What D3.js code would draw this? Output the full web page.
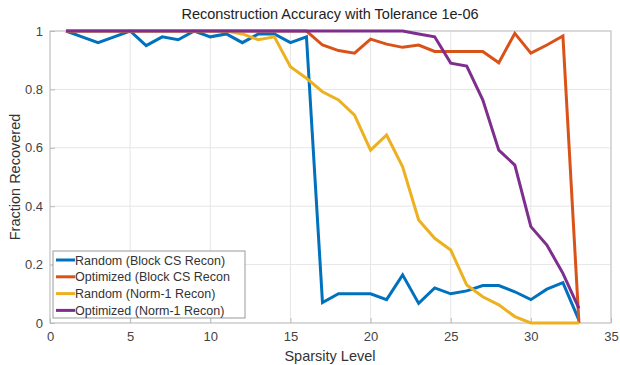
<!DOCTYPE html>
<html><head><meta charset="utf-8">
<script src="https://cdn.jsdelivr.net/npm/d3@7"></script>
<style>body{margin:0;background:#fff;} svg{display:block;font-family:"Liberation Sans",Arial,sans-serif;}</style>
</head><body>
<svg id="c" width="620" height="365"></svg>
<script>
const sparsity = d3.range(1, 34);
const randomBlock = [1.0,0.98,0.96,0.98,1.0,0.95,0.98,0.97,1.0,0.98,0.99,0.96,0.99,0.99,0.96,0.98,0.07,0.10,0.10,0.10,0.08,0.165,0.067,0.12,0.10,0.11,0.128,0.128,0.107,0.08,0.116,0.138,0.01];
const optimizedBlock = [1,1,1,1,1,1,1,1,1,1,1,1,1,1,1,1,0.952,0.933,0.924,0.972,0.955,0.944,0.952,0.93,0.93,0.93,0.93,0.891,0.992,0.924,0.952,0.983,0.0];
const randomNorm1 = [1,1,1,1,1,1,1,1,1,1,1,0.99,0.97,0.98,0.878,0.838,0.792,0.764,0.712,0.592,0.644,0.535,0.353,0.29,0.25,0.13,0.09,0.062,0.022,0.0,0.0,0.0,0.0];
const optimizedNorm1 = [1,1,1,1,1,1,1,1,1,1,1,1,1,1,1,1,1,1,1,1,1,1,0.99,0.98,0.89,0.88,0.764,0.592,0.541,0.33,0.267,0.17,0.05];
const seriesNames = ["Random (Block CS Recon)","Optimized (Block CS Recon","Random (Norm-1 Recon)","Optimized (Norm-1 Recon)"];
const colors = ["#0072BD","#D95319","#EDB120","#7E2F8E"];
const xTicks = [0,5,10,15,20,25,30,35];
const yTicks = [0,0.2,0.4,0.6,0.8,1];
const yTickLabels = ["0","0.2","0.4","0.6","0.8","1"];

const svg = d3.select("#c");
const L=50, R=611, T=31, B=323;
const x = d3.scaleLinear().domain([0,35]).range([L,R]);
const y = d3.scaleLinear().domain([0,1]).range([B,T]);

// grid
svg.append("g").selectAll("line").data(xTicks).join("line")
  .attr("x1",d=>x(d)).attr("x2",d=>x(d)).attr("y1",T).attr("y2",B)
  .attr("stroke","#e6e6e6").attr("stroke-width",1);
svg.append("g").selectAll("line").data(yTicks).join("line")
  .attr("x1",L).attr("x2",R).attr("y1",d=>y(d)).attr("y2",d=>y(d))
  .attr("stroke","#e6e6e6").attr("stroke-width",1);

// box
svg.append("rect").attr("x",L).attr("y",T).attr("width",R-L).attr("height",B-T)
  .attr("fill","none").attr("stroke","#c8c8c8").attr("stroke-width",1.2);

// axes
const xAxis = d3.axisBottom(x).tickValues(xTicks).tickSize(-5).tickPadding(9).tickFormat(d3.format("d"));
const gx = svg.append("g").attr("transform",`translate(0,${B})`).call(xAxis);
gx.select(".domain").remove();
gx.selectAll(".tick line").attr("stroke","#bbb");
gx.selectAll("text").attr("fill","#444").attr("font-size",13);
const yAxis = d3.axisLeft(y).tickValues(yTicks).tickSize(-5).tickPadding(7).tickFormat((d,i)=>yTickLabels[i]);
const gy = svg.append("g").attr("transform",`translate(${L},0)`).call(yAxis);
gy.select(".domain").remove();
gy.selectAll(".tick line").attr("stroke","#bbb");
gy.selectAll("text").attr("fill","#444").attr("font-size",13);

// lines
const allSeries = [randomBlock, optimizedBlock, randomNorm1, optimizedNorm1];
const line = d3.line().x((d,i)=>x(sparsity[i])).y(d=>y(d));
const clip = svg.append("clipPath").attr("id","clp").append("rect").attr("x",L).attr("y",T-3).attr("width",R-L).attr("height",B-T+6);
allSeries.forEach((s,k)=>{
  svg.append("path").datum(s).attr("d",line).attr("fill","none")
    .attr("stroke",colors[k]).attr("stroke-width",3).attr("stroke-linejoin","miter");
});

// title & labels
svg.append("text").attr("x",330).attr("y",19).attr("text-anchor","middle")
  .attr("font-size",14.5).attr("fill","#222").text("Reconstruction Accuracy with Tolerance 1e-06");
svg.append("text").attr("x",330).attr("y",361).attr("text-anchor","middle")
  .attr("font-size",14.5).attr("fill","#333").text("Sparsity Level");
svg.append("text").attr("transform","translate(20,177) rotate(-90)").attr("text-anchor","middle")
  .attr("font-size",14.5).attr("fill","#333").text("Fraction Recovered");

// legend
const lg = svg.append("g");
lg.append("rect").attr("x",53).attr("y",251).attr("width",192).attr("height",67)
  .attr("fill","#fff").attr("stroke","#999").attr("stroke-width",1);
seriesNames.forEach((n,k)=>{
  const yy = 260 + k*16.8;
  lg.append("line").attr("x1",56).attr("x2",75).attr("y1",yy).attr("y2",yy)
    .attr("stroke",colors[k]).attr("stroke-width",3);
  lg.append("text").attr("x",75).attr("y",yy+4.5).attr("font-size",12.5).attr("fill","#333").text(n);
});
</script>
</body></html>
